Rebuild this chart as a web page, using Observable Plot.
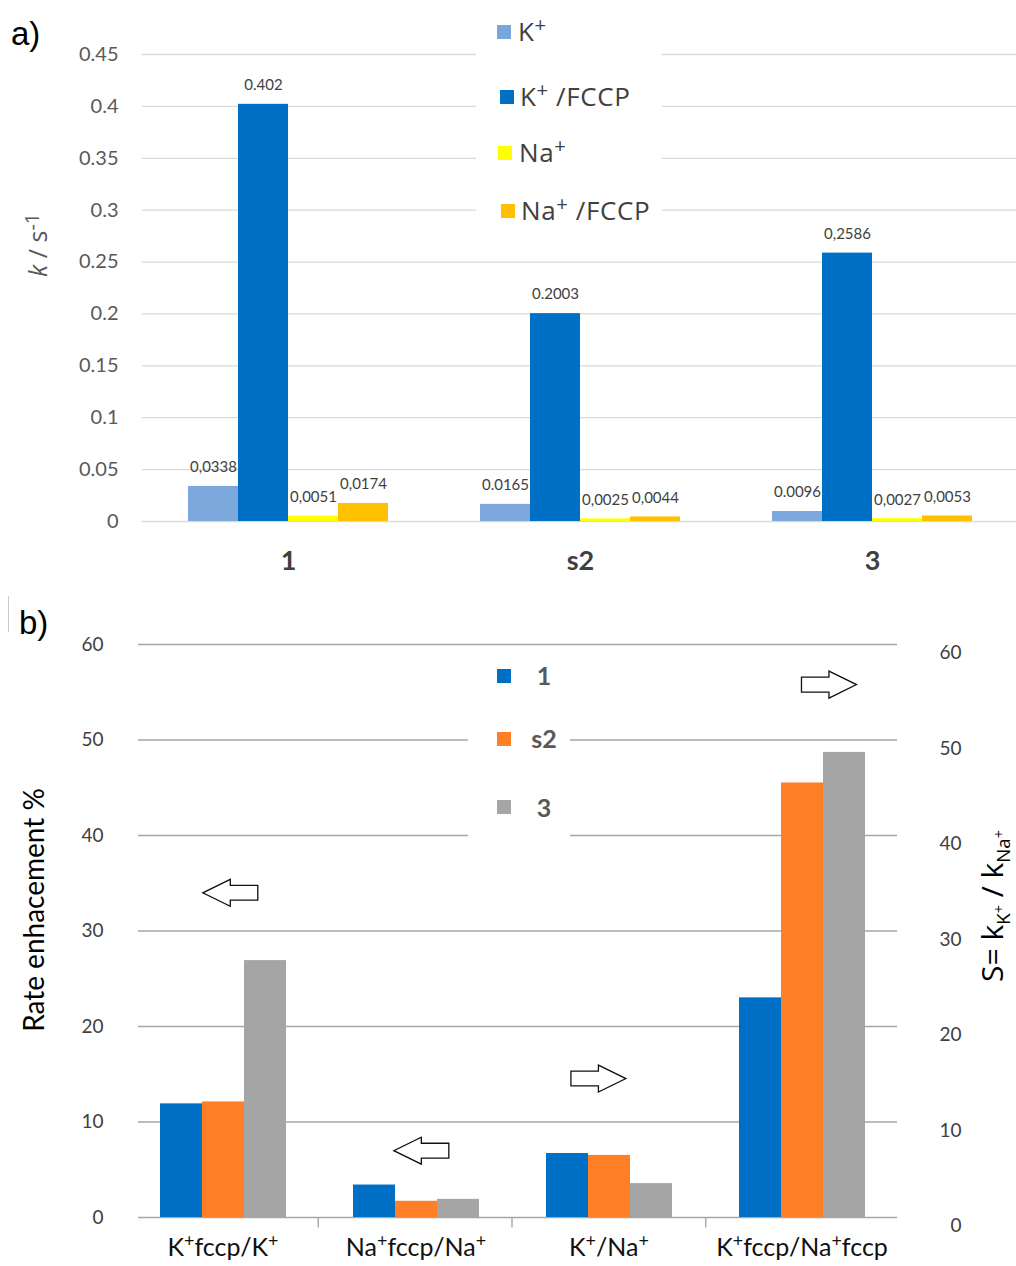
<!DOCTYPE html>
<html><head><meta charset="utf-8">
<script src="https://cdn.jsdelivr.net/npm/d3@7"></script>
<script src="https://cdn.jsdelivr.net/npm/@observablehq/plot@0.6"></script>
<style>
body{margin:0;background:#fff;overflow:hidden;width:1016px;height:1266px}
.panel{position:relative;width:1016px;overflow:visible}
.panel svg{position:absolute;left:0;top:0}
.abs{position:absolute;white-space:nowrap;line-height:1}
.rot{position:absolute;white-space:nowrap;line-height:1;transform:translate(-50%,-50%) rotate(-90deg)}
.sw{position:absolute;width:14px;height:14px}
.sup{font-size:0.78em;position:relative;top:-0.42em}
</style></head><body>
<div id="pa" class="panel" style="height:595px"></div>
<div id="pb" class="panel" style="height:671px"></div>
<script>
// ---------- Panel a data ----------
const compounds = ["1", "s2", "3"];
const seriesA = ["K+", "K+/FCCP", "Na+", "Na+/FCCP"];
const kK      = [0.0338, 0.0165, 0.0096];
const kKFCCP  = [0.402, 0.2003, 0.2586];
const kNa     = [0.0051, 0.0025, 0.0027];
const kNaFCCP = [0.0174, 0.0044, 0.0053];
const labelsK      = ["0,0338", "0.0165", "0.0096"];
const labelsKFCCP  = ["0.402", "0.2003", "0,2586"];
const labelsNa     = ["0,0051", "0,0025", "0,0027"];
const labelsNaFCCP = ["0,0174", "0,0044", "0,0053"];
const colorsA = ["#7ba7dd", "#0070c6", "#ffff00", "#ffc000"];
const ticksA = [0, 0.05, 0.1, 0.15, 0.2, 0.25, 0.3, 0.35, 0.4, 0.45];

// ---------- Panel b data ----------
const ratios = ["K⁺fccp/K⁺", "Na⁺fccp/Na⁺", "K⁺/Na⁺", "K⁺fccp/Na⁺fccp"];
const seriesB = ["1", "s2", "3"];
const enh1  = [11.9, 3.4, 6.7, 23.0];
const enhS2 = [12.1, 1.7, 6.5, 45.5];
const enh3  = [26.9, 1.9, 3.55, 48.7];
const colorsB = ["#0070c6", "#ff7f27", "#a5a5a5"];
const ticksB = [0, 10, 20, 30, 40, 50, 60];
// annotation arrows: position in category units (0..4), value, direction
const arrowPos = [0.546, 1.532, 2.446, 3.636];
const arrowVal = [34.0, 7.0, 14.55, 55.8];
const arrowDir = [-1, -1, 1, 1];

// ---------- build tables ----------
const seriesValsA = [kK, kKFCCP, kNa, kNaFCCP];
const seriesLabsA = [labelsK, labelsKFCCP, labelsNa, labelsNaFCCP];
const rowsA = compounds.flatMap((c, i) => seriesA.map((s, j) => ({compound: c, series: s, k: seriesValsA[j][i], label: seriesLabsA[j][i]})));
const seriesValsB = [enh1, enhS2, enh3];
const rowsB = ratios.flatMap((r, i) => seriesB.map((s, j) => ({ratio: r, series: s, v: seriesValsB[j][i]})));
const arrows = arrowPos.map((p, i) => ({pos: p, v: arrowVal[i], dir: arrowDir[i]}));

function arrowSymbol(s) {
  return {draw(ctx, size) {
    const r = Math.sqrt(size / Math.PI), h1 = 0.27 * r, h2 = 0.49 * r;
    ctx.moveTo(-s * r, -h1); ctx.lineTo(0, -h1); ctx.lineTo(0, -h2); ctx.lineTo(s * r, 0);
    ctx.lineTo(0, h2); ctx.lineTo(0, h1); ctx.lineTo(-s * r, h1); ctx.closePath();
  }};
}

// ---------- Panel a ----------
const pa = document.getElementById("pa");
const plotA = Plot.plot({
  width: 1016, height: 595,
  marginLeft: 141, marginRight: 0, marginTop: 54, marginBottom: 74,
  style: {fontFamily: "Lato", background: "transparent", overflow: "visible"},
  fx: {domain: compounds, range: [141, 1019], padding: 0, label: null},
  x: {domain: seriesA, paddingInner: 0, paddingOuter: 0.92, axis: null},
  y: {domain: [0, 0.45], axis: null},
  color: {domain: seriesA, range: colorsA},
  marks: [
    Plot.ruleY(ticksA, {stroke: "#d9d9d9", strokeWidth: 1.3}),
    Plot.barY(rowsA, {fx: "compound", x: "series", y: "k", fill: "series"}),
    Plot.text(rowsA, {fx: "compound", x: "series", y: "k", text: "label", dy: -19, fontSize: 15, fill: "#404040"}),
    Plot.axisY({ticks: ticksA, tickFormat: d => String(d), tickSize: 0, tickPadding: 24, fontSize: 20, color: "#595959", label: null}),
    Plot.axisFx({anchor: "bottom", tickSize: 0, tickPadding: 29, fontSize: 27, fontWeight: "bold", color: "#404040", label: null})
  ]
});
pa.appendChild(plotA);

function addDiv(parent, cls, html, css) {
  const d = document.createElement("div");
  d.className = cls; d.innerHTML = html; Object.assign(d.style, css);
  parent.appendChild(d); return d;
}
addDiv(pa, "abs", "a)", {left: "11px", top: "17px", fontSize: "33px", fontFamily: "Liberation Sans", color: "#000"});
addDiv(pa, "rot", "<i>k</i> / s<span class='sup'>-1</span>", {left: "37px", top: "245px", fontSize: "25px", fontFamily: "Open Sans", color: "#595959"});
// legend a
addDiv(pa, "abs", "", {left: "476px", top: "14px", width: "186px", height: "212px", background: "#fff"});
const legA = [
  {html: "K<span class='sup'>+</span>", sx: 497, sy: 25, tx: 518, ty: 32},
  {html: "K<span class='sup'>+</span> /FCCP", sx: 500, sy: 90, tx: 520, ty: 97},
  {html: "Na<span class='sup'>+</span>", sx: 498, sy: 146, tx: 519, ty: 153},
  {html: "Na<span class='sup'>+</span> /FCCP", sx: 501, sy: 204, tx: 521, ty: 211}
];
legA.forEach((e, i) => {
  addDiv(pa, "sw", "", {left: e.sx + "px", top: e.sy + "px", background: colorsA[i]});
  addDiv(pa, "abs", e.html, {left: e.tx + "px", top: (e.ty - 14) + "px", fontSize: "26px", letterSpacing: "0.6px", fontFamily: "Open Sans", color: "#404040"});
});

// ---------- Panel b ----------
const pb = document.getElementById("pb");
const plotBback = Plot.plot({
  width: 1016, height: 671,
  marginLeft: 138, marginRight: 119, marginTop: 49, marginBottom: 49,
  style: {fontFamily: "Lato", background: "transparent", overflow: "visible"},
  x: {type: "linear", domain: [0, 4], range: [124, 899], axis: null},
  y: {domain: [0, 60], axis: null},
  marks: [
    Plot.ruleY(ticksB, {stroke: "#a6a6a6", strokeWidth: 1.4}),
    Plot.ruleX([1, 2, 3], {y1: 0, y2: -1.1, stroke: "#a6a6a6", strokeWidth: 1.4}),
    Plot.axisY({anchor: "left", ticks: ticksB, tickSize: 0, tickPadding: 35, fontSize: 19, color: "#404040", label: null}),
    Plot.axisY({anchor: "right", ticks: ticksB, tickSize: 0, tickPadding: 64, textAnchor: "end", dy: 8.5, fontSize: 19, color: "#404040", label: null}),
    Plot.dot(arrows.filter(d => d.dir < 0), {x: "pos", y: "v", r: 27.5, symbol: arrowSymbol(-1), fill: "#fff", stroke: "#111", strokeWidth: 1.3}),
    Plot.dot(arrows.filter(d => d.dir > 0), {x: "pos", y: "v", r: 27.5, symbol: arrowSymbol(1), fill: "#fff", stroke: "#111", strokeWidth: 1.3})
  ]
});
pb.appendChild(plotBback);

const plotBfront = Plot.plot({
  width: 1016, height: 671,
  marginLeft: 124, marginRight: 117, marginTop: 49, marginBottom: 49,
  style: {fontFamily: "Lato", background: "transparent", overflow: "visible"},
  fx: {domain: ratios, padding: 0, label: null},
  x: {domain: seriesB, paddingInner: 0, paddingOuter: 0.75, axis: null},
  y: {domain: [0, 60], axis: null},
  color: {domain: seriesB, range: colorsB},
  marks: [
    Plot.barY(rowsB, {fx: "ratio", x: "series", y: "v", fill: "series"}),
    Plot.axisFx({anchor: "bottom", tickSize: 0, tickPadding: 21, fontSize: 25, color: "#111", label: null})
  ]
});
// render the superscript plus signs of the category labels as raised tspans
d3.select(plotBfront).selectAll("text").each(function() {
  const t = this.textContent;
  if (!t.includes("⁺")) return;
  const sel = d3.select(this);
  sel.text(null);
  t.split("⁺").forEach((part, i, arr) => {
    if (part) sel.append("tspan").attr("dy", i > 0 ? "9" : null).text(part);
    else if (i > 0) sel.append("tspan").attr("dy", "9").text("");
    if (i < arr.length - 1) sel.append("tspan").attr("dy", i > 0 && !part ? "-9" : "-9").attr("font-size", "0.72em").text("+");
  });
});
pb.appendChild(plotBfront);

addDiv(pb, "abs", "", {left: "8px", top: "1px", width: "1px", height: "36px", background: "#c8c8c8"});
addDiv(pb, "abs", "b)", {left: "19px", top: "11px", fontSize: "33px", fontFamily: "Liberation Sans", color: "#000"});
addDiv(pb, "rot", "Rate enhacement %", {left: "33px", top: "315px", fontSize: "28px", fontFamily: "Lato", color: "#000"});
addDiv(pb, "rot", "S= k<sub style='font-size:0.62em'>K<span class='sup'>+</span></sub> / k<sub style='font-size:0.62em'>Na<span class='sup'>+</span></sub>", {left: "995px", top: "311px", fontSize: "30px", fontFamily: "Open Sans", color: "#000"});
// legend b
addDiv(pb, "abs", "", {left: "468px", top: "60px", width: "102px", height: "185px", background: "#fff"});
const legB = [{sy: 74, ty: 81}, {sy: 137, ty: 144}, {sy: 205, ty: 213}];
legB.forEach((e, i) => {
  addDiv(pb, "sw", "", {left: "497px", top: e.sy + "px", background: colorsB[i]});
  addDiv(pb, "abs", seriesB[i], {left: "544px", top: (e.ty - 13) + "px", transform: "translateX(-50%)", fontSize: "25px", fontWeight: "bold", fontFamily: "Lato", color: "#595959"});
});
</script></body></html>
